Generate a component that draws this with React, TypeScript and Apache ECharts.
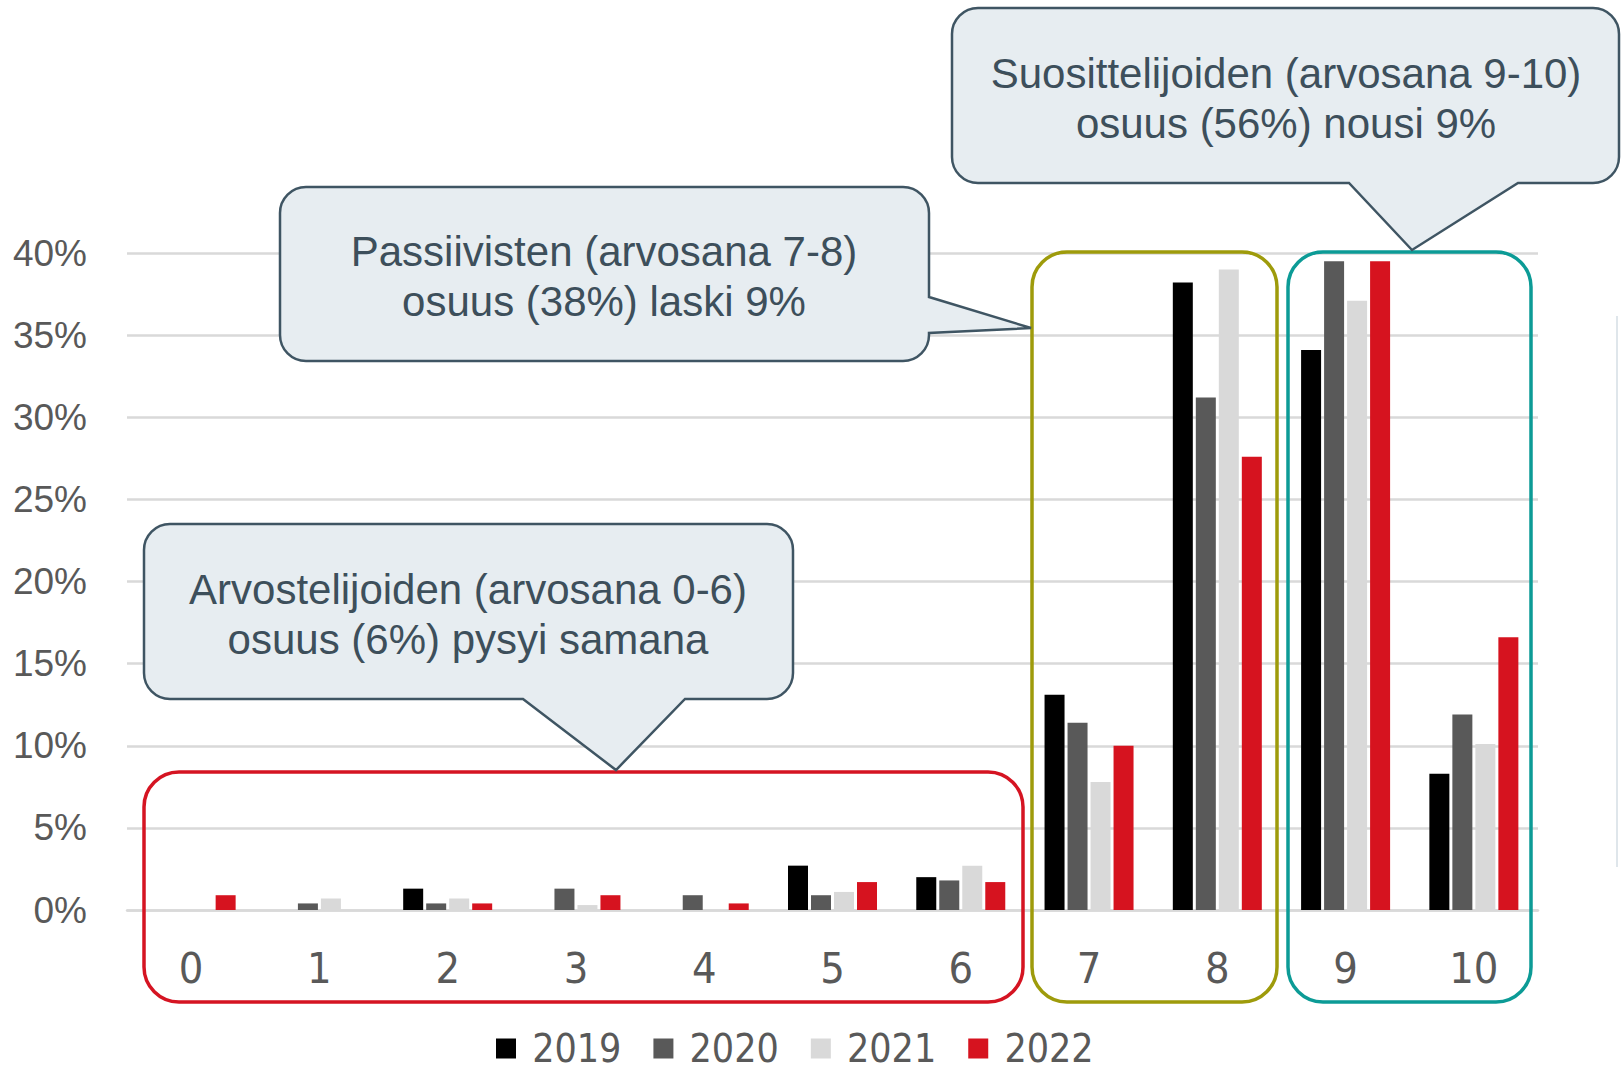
import React, { useEffect, useRef } from "react";
import * as echarts from "echarts";

const categories = ["0", "1", "2", "3", "4", "5", "6", "7", "8", "9", "10"];
const years = ["2019", "2020", "2021", "2022"];
const s2019 = [0, 0, 1.3, 0, 0, 2.7, 2.0, 13.1, 38.2, 34.1, 8.3];
const s2020 = [0, 0.4, 0.4, 1.3, 0.9, 0.9, 1.8, 11.4, 31.2, 39.5, 11.9];
const s2021 = [0, 0.7, 0.7, 0.3, 0, 1.1, 2.7, 7.8, 39.0, 37.1, 10.1];
const s2022 = [0.9, 0, 0.4, 0.9, 0.4, 1.7, 1.7, 10.0, 27.6, 39.5, 16.6];
const yearColors = ["#000000", "#595959", "#d9d9d9", "#d6131f"];

const calloutTexts = [
  "Suosittelijoiden (arvosana 9-10)\nosuus (56%) nousi 9%",
  "Passiivisten (arvosana 7-8)\nosuus (38%) laski 9%",
  "Arvostelijoiden (arvosana 0-6)\nosuus (6%) pysyi samana",
];

const NARROW = "'Liberation Sans Narrow', 'DejaVu Sans Condensed', 'Liberation Sans', sans-serif";
const SANS = "'Liberation Sans', Arial, sans-serif";

const callout1 =
  "M 978 8 L 1593 8 A 26 26 0 0 1 1619 34 L 1619 157 A 26 26 0 0 1 1593 183 L 1518 183 L 1412 250 L 1349 183 L 978 183 A 26 26 0 0 1 952 157 L 952 34 A 26 26 0 0 1 978 8 Z";
const callout2 =
  "M 306 187 L 903 187 A 26 26 0 0 1 929 213 L 929 297 L 1031 328 L 929 333 L 929 335 A 26 26 0 0 1 903 361 L 306 361 A 26 26 0 0 1 280 335 L 280 213 A 26 26 0 0 1 306 187 Z";
const callout3 =
  "M 170 524 L 767 524 A 26 26 0 0 1 793 550 L 793 673 A 26 26 0 0 1 767 699 L 685 699 L 616 770 L 523 699 L 170 699 A 26 26 0 0 1 144 673 L 144 550 A 26 26 0 0 1 170 524 Z";

let registered = false;
function registerShapes() {
  if (registered) return;
  registered = true;
  echarts.graphic.registerShape("callout1", echarts.graphic.extendPath(callout1, {}));
  echarts.graphic.registerShape("callout2", echarts.graphic.extendPath(callout2, {}));
  echarts.graphic.registerShape("callout3", echarts.graphic.extendPath(callout3, {}));
}

export default function App() {
  const ref = useRef<HTMLDivElement>(null);
  useEffect(() => {
    if (!ref.current) return;
    registerShapes();
    const chart = echarts.init(ref.current, undefined, { renderer: "svg" });
    const seriesData = [s2019, s2020, s2021, s2022];
    const calloutStyle = { fill: "#e7edf1", stroke: "#3f5563", lineWidth: 2.5 };
    const textStyle = (t: string) => ({
      text: t,
      fontSize: 42,
      fontFamily: SANS,
      fill: "#3d4f5b",
      align: "center",
      verticalAlign: "middle",
      lineHeight: 50,
    });
    chart.setOption({
      animation: false,
      backgroundColor: "#ffffff",
      grid: { left: 127, right: 83, top: 253, bottom: 160, containLabel: false },
      legend: {
        data: years,
        left: 496,
        top: 1029,
        padding: 0,
        icon: "rect",
        itemWidth: 20,
        itemHeight: 20,
        itemGap: 32,
        formatter: " {name}",
        textStyle: { fontSize: 39, color: "#595959", fontFamily: NARROW, lineHeight: 34 },
      },
      xAxis: {
        type: "category",
        data: categories,
        axisLine: { show: true, lineStyle: { color: "#d9d9d9", width: 2.5 } },
        axisTick: { show: false },
        axisLabel: { margin: 36, fontSize: 43, color: "#595959", fontFamily: NARROW },
      },
      yAxis: {
        type: "value",
        min: 0,
        max: 40,
        interval: 5,
        axisLine: { show: false },
        axisTick: { show: false },
        splitLine: { lineStyle: { color: "#d9d9d9", width: 2.5 } },
        axisLabel: {
          formatter: "{value}%",
          margin: 40,
          fontSize: 37,
          color: "#595959",
          fontFamily: SANS,
        },
      },
      series: years.map((y, i) => ({
        name: y,
        type: "bar",
        data: seriesData[i],
        barWidth: 20,
        barGap: "15%",
        itemStyle: { color: yearColors[i] },
      })),
      graphic: [
        {
          type: "line",
          z: 5,
          shape: { x1: 1617, y1: 316, x2: 1617, y2: 867 },
          style: { stroke: "#dfe6eb", lineWidth: 2 },
        },
        {
          type: "rect",
          z: 20,
          shape: { x: 144, y: 772, width: 879, height: 230, r: 35 },
          style: { fill: "transparent", stroke: "#d51422", lineWidth: 3.5 },
        },
        {
          type: "rect",
          z: 20,
          shape: { x: 1032, y: 252, width: 245, height: 750, r: 35 },
          style: { fill: "transparent", stroke: "#9e9b0b", lineWidth: 3.5 },
        },
        {
          type: "rect",
          z: 20,
          shape: { x: 1288, y: 252, width: 243, height: 750, r: 35 },
          style: { fill: "transparent", stroke: "#0c9b96", lineWidth: 3.5 },
        },
        { type: "callout1", z: 30, style: calloutStyle },
        { type: "callout2", z: 30, style: calloutStyle },
        { type: "callout3", z: 30, style: calloutStyle },
        { type: "text", z: 40, x: 1286, y: 98, style: textStyle(calloutTexts[0]) },
        { type: "text", z: 40, x: 604, y: 276, style: textStyle(calloutTexts[1]) },
        { type: "text", z: 40, x: 468, y: 614, style: textStyle(calloutTexts[2]) },
      ],
    });
    return () => chart.dispose();
  }, []);
  return (
    <div
      ref={ref}
      style={{ position: "fixed", left: 0, top: 0, width: 1621, height: 1070 }}
    />
  );
}
